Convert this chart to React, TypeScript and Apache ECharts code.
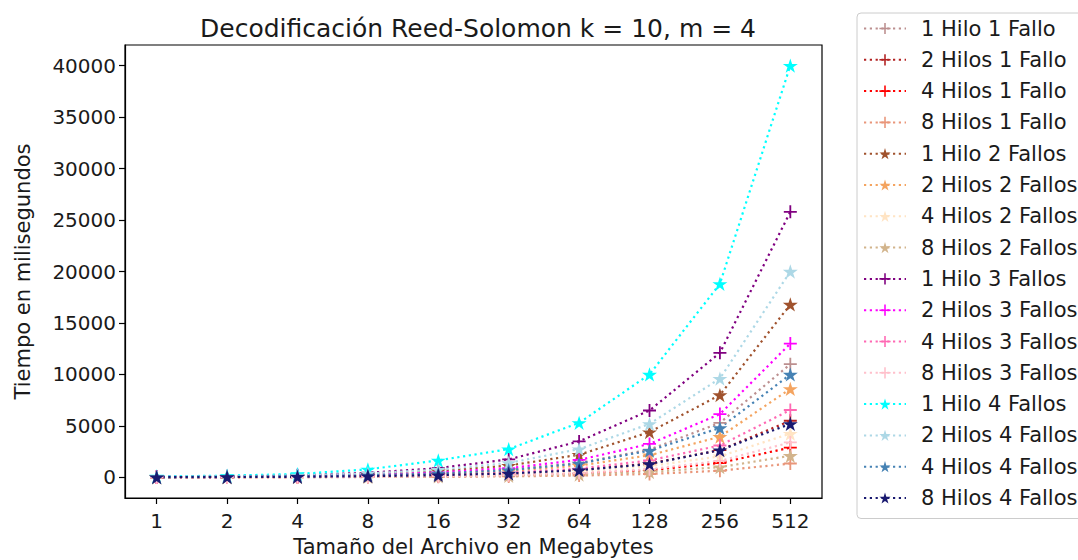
import React, { useEffect, useRef } from "react";
import * as echarts from "echarts";

// ---------- data ----------
const sizes = ["1", "2", "4", "8", "16", "32", "64", "128", "256", "512"];
const yTicks = [0, 5000, 10000, 15000, 20000, 25000, 30000, 35000, 40000];

const h1f1 = [30, 55, 100, 200, 400, 750, 1400, 2700, 5300, 11000];
const h2f1 = [18, 30, 55, 110, 210, 380, 700, 1350, 2650, 5500];
const h4f1 = [12, 20, 35, 65, 115, 200, 370, 700, 1400, 2900];
const h8f1 = [8, 12, 20, 35, 60, 100, 180, 330, 650, 1350];
const h1f2 = [40, 80, 150, 300, 600, 1150, 2200, 4400, 8000, 16800];
const h2f2 = [25, 45, 80, 160, 320, 600, 1150, 2150, 3950, 8600];
const h4f2 = [15, 25, 45, 90, 170, 300, 560, 1100, 2050, 4250];
const h8f2 = [10, 16, 28, 50, 90, 160, 280, 520, 1000, 2100];
const h1f3 = [60, 115, 220, 450, 900, 1750, 3500, 6500, 12100, 25800];
const h2f3 = [35, 65, 120, 240, 480, 900, 1700, 3250, 6150, 13000];
const h4f3 = [20, 35, 65, 130, 250, 450, 850, 1650, 3100, 6550];
const h8f3 = [12, 20, 35, 65, 120, 220, 420, 800, 1600, 3400];
const h1f4 = [95, 170, 330, 780, 1650, 2750, 5300, 10000, 18800, 40000];
const h2f4 = [50, 95, 190, 380, 750, 1400, 2750, 5200, 9600, 20000];
const h4f4 = [30, 55, 100, 200, 380, 700, 1350, 2600, 4800, 10000];
const h8f4 = [20, 35, 60, 120, 220, 380, 700, 1300, 2650, 5200];

const PLUS = "path://M4.3,0H5.7V4.3H10V5.7H5.7V10H4.3V5.7H0V4.3H4.3Z";
const STAR =
  "path://M10,0L12.245,6.91L19.511,6.91L13.633,11.18L15.878,18.09L10,13.82L4.122,18.09L6.367,11.18L0.489,6.91L7.755,6.91Z";

const defs = [
  { name: "1 Hilo 1 Fallo", color: "#bc8f8f", sym: "plus", data: h1f1 },
  { name: "2 Hilos 1 Fallo", color: "#b22222", sym: "plus", data: h2f1 },
  { name: "4 Hilos 1 Fallo", color: "#ff0000", sym: "plus", data: h4f1 },
  { name: "8 Hilos 1 Fallo", color: "#e9967a", sym: "plus", data: h8f1 },
  { name: "1 Hilo 2 Fallos", color: "#a0522d", sym: "star", data: h1f2 },
  { name: "2 Hilos 2 Fallos", color: "#f4a460", sym: "star", data: h2f2 },
  { name: "4 Hilos 2 Fallos", color: "#ffe4c4", sym: "star", data: h4f2 },
  { name: "8 Hilos 2 Fallos", color: "#d2b48c", sym: "star", data: h8f2 },
  { name: "1 Hilo 3 Fallos", color: "#800080", sym: "plus", data: h1f3 },
  { name: "2 Hilos 3 Fallos", color: "#ff00ff", sym: "plus", data: h2f3 },
  { name: "4 Hilos 3 Fallos", color: "#ff69b4", sym: "plus", data: h4f3 },
  { name: "8 Hilos 3 Fallos", color: "#ffc0cb", sym: "plus", data: h8f3 },
  { name: "1 Hilo 4 Fallos", color: "#00ffff", sym: "star", data: h1f4 },
  { name: "2 Hilos 4 Fallos", color: "#add8e6", sym: "star", data: h2f4 },
  { name: "4 Hilos 4 Fallos", color: "#4682b4", sym: "star", data: h4f4 },
  { name: "8 Hilos 4 Fallos", color: "#191970", sym: "star", data: h8f4 },
];

const FONT = "DejaVu Sans";
const TXT = "#1a1a1a";

export default function App() {
  const ref = useRef<HTMLDivElement>(null);
  useEffect(() => {
    if (!ref.current) return;
    const chart = echarts.init(ref.current, null, { renderer: "svg" });
    const idx = sizes.map((_, i) => i);
    chart.setOption({
      animation: false,
      backgroundColor: "#ffffff",
      textStyle: { fontFamily: FONT },
      title: {
        text: "Decodificación Reed-Solomon k = 10, m = 4",
        left: 473,
        top: 11,
        textAlign: "center",
        textStyle: { fontFamily: FONT, fontSize: 25, fontWeight: "normal", color: TXT },
      },
      grid: {
        left: 125,
        top: 45,
        width: 697,
        height: 453,
        show: true,
        outerBoundsMode: "none",
        containLabel: false,
        borderColor: "#000",
        borderWidth: 1.2,
        backgroundColor: "transparent",
      },
      legend: {
        orient: "vertical",
        left: 857,
        top: 13,
        padding: [5, 10, 10, 6],
        itemWidth: 42,
        itemHeight: 14,
        itemGap: 10.3,
        borderColor: "#cccccc",
        borderWidth: 1,
        borderRadius: 4,
        textStyle: {
          fontFamily: FONT,
          fontSize: 21,
          lineHeight: 21,
          color: TXT,
          padding: [0, 0, 0, 10],
        },
        data: defs.map((d) => d.name),
      },
      xAxis: {
        type: "value",
        min: -0.45,
        max: 9.45,
        name: "Tamaño del Archivo en Megabytes",
        nameLocation: "middle",
        nameGap: 38,
        nameTextStyle: { fontFamily: FONT, fontSize: 21, color: TXT },
        axisLine: { show: true, onZero: false, lineStyle: { color: "#000", width: 1.2 } },
        axisTick: { show: true, length: 6, customValues: idx, lineStyle: { color: "#000", width: 1.2 } },
        axisLabel: {
          customValues: idx,
          margin: 13,
          fontFamily: FONT,
          fontSize: 20,
          color: TXT,
          formatter: (v: number) => sizes[Math.round(v)] ?? "",
        },
        splitLine: { show: false },
      },
      yAxis: {
        type: "value",
        min: -2000,
        max: 42000,
        name: "Tiempo en milisegundos",
        nameLocation: "middle",
        nameGap: 92,
        nameTextStyle: { fontFamily: FONT, fontSize: 21, color: TXT },
        axisLine: { show: true, onZero: false, lineStyle: { color: "#000", width: 1.2 } },
        axisTick: { show: true, length: 6, customValues: yTicks, lineStyle: { color: "#000", width: 1.2 } },
        axisLabel: {
          customValues: yTicks,
          margin: 9,
          fontFamily: FONT,
          fontSize: 20,
          color: TXT,
          padding: [5, 0, 0, 0],
          formatter: (v: number) => String(v),
        },
        splitLine: { show: false },
      },
      series: defs.map((d) => ({
        name: d.name,
        type: "line",
        data: d.data.map((v, i) => [i, v]),
        symbol: d.sym === "plus" ? PLUS : STAR,
        symbolSize: d.sym === "plus" ? 13 : 15,
        symbolKeepAspect: true,
        showSymbol: true,
        itemStyle: { color: d.color },
        lineStyle: { color: d.color, width: 2.2, type: [2.2, 3.6] },
        emphasis: { disabled: true },
      })),
    });
    return () => chart.dispose();
  }, []);
  return (
    <div
      ref={ref}
      style={{ position: "fixed", left: 0, top: 0, width: 1078, height: 560 }}
    />
  );
}
